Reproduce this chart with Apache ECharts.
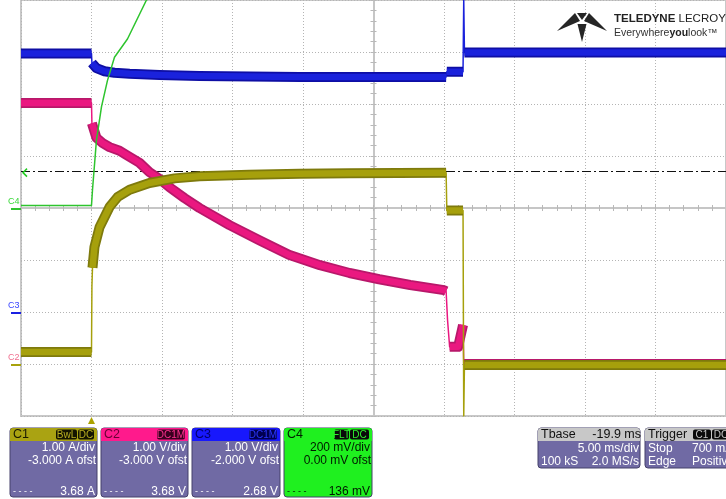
<!DOCTYPE html>
<html><head><meta charset="utf-8">
<script src="https://cdn.jsdelivr.net/npm/echarts@6/dist/echarts.min.js"></script>
<style>html,body{margin:0;padding:0;background:#fff;overflow:hidden}#c{width:726px;height:499px}</style>
</head><body><div id="c"></div>
<script>
// ---- time base: ms, trigger at t = 0 (5 ms/div, 10 divisions) ----
const tMin = -5, tMax = 45, tDiv = 5;

// ---- C1 current (A), 1 A/div, -3 A offset ----
const c1Time = [-5, 0, 0.03, 0.07, 0.21, 0.57, 1.28, 1.85, 2.7, 4.11, 5.89, 7.66, 11.2, 14.75, 18.3, 25.15, 25.2, 26.35, 26.4, 26.45, 45];
const c1Amp  = [0.23, 0.23, 1.5, 1.85, 2.25, 2.63, 3.02, 3.21, 3.35, 3.48, 3.57, 3.61, 3.64, 3.66, 3.67, 3.68, 2.95, 2.95, -1.0, -0.02, -0.02];
const c1Bands = [[0, 1], [3, 15], [16, 17], [19, 20]];   // noisy (thick) stretches, by index

// ---- C2 voltage (V), 1 V/div, -3 V offset ----
const c2Time = [-5, 0, 0.03, 0.35, 0.78, 1.28, 1.99, 2.48, 3.40, 4.11, 4.82, 5.53, 6.60, 7.66, 9.79, 11.9, 14.0, 16.2, 18.3, 20.4, 22.6, 25.0, 25.15, 25.25, 25.4, 26.0, 26.35, 26.4, 45];
const c2Volt = [5.02, 5.02, 4.63, 4.35, 4.25, 4.17, 4.10, 4.02, 3.87, 3.69, 3.56, 3.40, 3.19, 3.00, 2.67, 2.38, 2.10, 1.90, 1.75, 1.63, 1.52, 1.42, 1.40, 0.85, 0.33, 0.33, 0.75, 0.0, 0.0];
const c2Bands = [[0, 1], [2, 22], [24, 26], [27, 28]];

// ---- C3 voltage (V), 1 V/div, -2 V offset ----
const c3Time = [-5, 0, 0.03, 0.35, 0.92, 1.63, 2.70, 4.82, 7.66, 14.75, 25.15, 25.2, 26.35, 26.4, 26.45, 45];
const c3Volt = [4.97, 4.97, 4.79, 4.69, 4.63, 4.60, 4.58, 4.56, 4.54, 4.52, 4.52, 4.62, 4.62, 6.0, 4.99, 4.99];
const c3Bands = [[0, 1], [2, 10], [11, 12], [14, 15]];

// ---- C4 voltage (V), 200 mV/div, 0 offset ----
const c4Time = [-5, 0, 0.07, 0.35, 0.71, 1.13, 1.63, 2.55, 3.90, 4.5];
const c4Volt = [0.01, 0.01, 0.069, 0.26, 0.39, 0.49, 0.58, 0.65, 0.80, 0.85];
const c4Level = 0.136;

// ---- channel vertical ranges (8 divisions) ----
const chRange = { c1: [-1, 7], c2: [-1, 7], c3: [-2, 6], c4: [-0.8, 0.8] };

// ---- panel texts ----
const chPanels = [
  { name: 'C1', tags: ['BwL', 'DC'], vdiv: '1.00 A/div', ofst: '-3.000 A ofst', meas: '3.68 A' },
  { name: 'C2', tags: ['DC1M'], vdiv: '1.00 V/div', ofst: '-3.000 V ofst', meas: '3.68 V' },
  { name: 'C3', tags: ['DC1M'], vdiv: '1.00 V/div', ofst: '-2.000 V ofst', meas: '2.68 V' },
  { name: 'C4', tags: ['FLT', 'DC'], vdiv: '200 mV/div', ofst: '0.00 mV ofst', meas: '136 mV' }
];
const tbase = { title: 'Tbase', delay: '-19.9 ms', tdiv: '5.00 ms/div', samples: '100 kS', rate: '2.0 MS/s' };
const trig = { title: 'Trigger', tags: ['C1', 'DC'], mode: 'Stop', level: '700 mA', type: 'Edge', slope: 'Positive' };

const FONT = '"Liberation Sans", Arial, sans-serif';
const chart = echarts.init(document.getElementById('c'), null, { renderer: 'canvas' });

const gridGray = '#b4b4b4';
const centerGray = '#c6c6c6';
function xAx(inside, split) {
  return {
    type: 'value', position: 'bottom', min: tMin, max: tMax, interval: tDiv,
    axisLabel: { show: false },
    splitLine: { show: split, lineStyle: { color: gridGray, type: [1, 2], width: 1 } },
    axisLine: { show: true, onZero: true, onZeroAxisIndex: 0, lineStyle: { color: centerGray, width: 2 } },
    axisTick: { show: true, inside: inside, length: 3, lineStyle: { color: '#b8b8b8', width: 1 } },
    minorTick: { show: true, splitNumber: 5, length: 3, lineStyle: { color: '#b8b8b8', width: 1 } }
  };
}
function yAx(inside, split) {
  return {
    type: 'value', position: 'left', min: -4, max: 4, interval: 1,
    axisLabel: { show: false },
    splitLine: { show: split, lineStyle: { color: gridGray, type: [1, 2], width: 1 } },
    axisLine: { show: true, onZero: true, onZeroAxisIndex: 2, lineStyle: { color: centerGray, width: 2 } },
    axisTick: { show: true, inside: inside, length: 3, lineStyle: { color: '#b8b8b8', width: 1 } },
    minorTick: { show: true, splitNumber: 5, length: 3, lineStyle: { color: '#b8b8b8', width: 1 } }
  };
}
function chAx(r) { return { type: 'value', position: 'left', min: r[0], max: r[1], show: false }; }

function pts(t, v) { return t.map((x, i) => [x, v[i]]); }
function bandPts(t, v, bands) {
  const out = [];
  bands.forEach((b, k) => {
    if (k > 0) out.push([null, null]);
    for (let i = b[0]; i <= b[1]; i++) out.push([t[i], v[i]]);
  });
  return out;
}
function line(data, yIdx, color, width, z, extra) {
  return Object.assign({
    type: 'line', xAxisIndex: 0, yAxisIndex: yIdx, data: data, connectNulls: false,
    symbol: 'none', showSymbol: false, silent: true, animation: false, z: z,
    lineStyle: { color: color, width: width, join: 'round', cap: 'butt' }, clip: true
  }, extra || {});
}
function channel(t, v, bands, yIdx, dark, mid, z) {
  return [
    line(pts(t, v), yIdx, mid, 1.5, z),
    line(bandPts(t, v, bands), yIdx, dark, 10, z + 0.1),
    line(bandPts(t, v, bands), yIdx, mid, 6.5, z + 0.2)
  ];
}

const option = {
  animation: false,
  backgroundColor: '#ffffff',
  grid: { left: 21, top: 0, right: 0, height: 416, show: true, borderColor: '#c8c8c8', borderWidth: 2, backgroundColor: 'transparent' },
  xAxis: [xAx(true, true), xAx(false, false), { type: 'value', position: 'bottom', min: -5, max: 5, show: false }],
  yAxis: [yAx(true, true), yAx(false, false), chAx(chRange.c1), chAx(chRange.c2), chAx(chRange.c3), chAx(chRange.c4)],
  series: [].concat(
    channel(c3Time, c3Volt, c3Bands, 4, '#0e0ea4', '#1a22dc', 3),
    channel(c2Time, c2Volt, c2Bands, 3, '#b8186a', '#ea1880', 5),
    channel(c1Time, c1Amp, c1Bands, 2, '#7e7a0c', '#a6a00c', 7),
    [line(pts(c4Time, c4Volt), 5, '#2ec42e', 1.5, 9, {
      markLine: {
        silent: true, symbol: ['none', 'none'], label: { show: false }, animation: false,
        lineStyle: { color: '#111', type: [9, 3, 2, 3], width: 1 },
        data: [{ yAxis: c4Level }]
      }
    })]
  )
};
chart.setOption(option);

// ---------- overlay graphics ----------
const G = [];
function rect(x, y, w, h, fill, r, stroke) {
  G.push({ type: 'rect', shape: { x: x, y: y, width: w, height: h, r: r || 0 }, style: { fill: fill, stroke: stroke || null, lineWidth: stroke ? 1 : 0 }, z: 100 });
}
function txt(s, x, y, fill, size, align, weight, va) {
  G.push({ type: 'text', x: x, y: y, style: { text: s, fill: fill, font: (weight || 'normal') + ' ' + size + 'px ' + FONT, textAlign: align || 'left', textVerticalAlign: va || 'middle' }, z: 102 });
}
function tag(s, x, w, bg, fg) {
  rect(x, 429.5, w, 10, bg, 2);
  txt(s, x + w / 2, 435, fg, 10, 'center');
}

// channel panels
const panelX = [10, 101, 192, 284];
const panelW = [87, 87, 88, 88];
const hdr = ['#aaa312', '#ff1a8c', '#1818fc', '#1ff01f'];
const hdrTxt = ['#1a1a00', '#6a0034', '#00006e', '#002000'];
const body = ['#706aa4', '#706aa4', '#706aa4', '#1ff01f'];
const bodyTxt = ['#ffffff', '#ffffff', '#ffffff', '#001800'];
const tagBg = [['#141400', '#141400'], ['#3a0020'], ['#000050'], ['#0a0a0a', '#0a0a0a']];
const tagFg = ['#b8ae20', '#ff3090', '#2a36ff', '#2ef02e'];
const tagW = [[22, 17], [29], [29], [16, 20]];
chPanels.forEach((p, i) => {
  const x = panelX[i], w = panelW[i], r = x + w;
  rect(x, 428, w, 69, body[i], 3, '#45416a');
  rect(x, 428, w, 13, hdr[i], [3, 3, 0, 0]);
  txt(p.name, x + 3, 435, hdrTxt[i], 12.5, 'left');
  let tx = r - 2;
  const widths = tagW[i];
  for (let k = p.tags.length - 1; k >= 0; k--) {
    tx -= widths[k];
    tag(p.tags[k], tx, widths[k] - 1, tagBg[i][k], tagFg[i]);
  }
  txt(p.vdiv, r - 2, 448, bodyTxt[i], 12, 'right');
  txt(p.ofst, r - 1, 461, bodyTxt[i], 12, 'right');
  txt('- - - -', x + 3, 492, bodyTxt[i], 9, 'left');
  txt(p.meas, r - 2, 492, bodyTxt[i], 12, 'right');
});

// timebase panel
rect(538, 428, 102, 40, '#706aa4', 3, '#45416a');
rect(538, 428, 102, 13, '#c8c8c8', [3, 3, 0, 0]);
txt(tbase.title, 541, 435, '#111', 12.5, 'left');
txt(tbase.delay, 641, 435, '#111', 12.5, 'right');
txt(tbase.tdiv, 639, 449, '#fff', 12, 'right');
txt(tbase.samples, 541, 462, '#fff', 12, 'left');
txt(tbase.rate, 639, 462, '#fff', 12, 'right');

// trigger panel
rect(645, 428, 90, 40, '#706aa4', 3, '#45416a');
rect(645, 428, 90, 13, '#c8c8c8', [3, 3, 0, 0]);
txt(trig.title, 648, 435, '#111', 12.5, 'left');
tag(trig.tags[0], 693, 18, '#0a0a0a', '#c8c8c8');
tag(trig.tags[1], 712, 18, '#0a0a0a', '#c8c8c8');
txt(trig.mode, 648, 449, '#fff', 12, 'left');
txt(trig.level, 692, 449, '#fff', 12, 'left');
txt(trig.type, 648, 462, '#fff', 12, 'left');
txt(trig.slope, 692, 462, '#fff', 12, 'left');

// trigger position marker
const trigPx = chart.convertToPixel({ xAxisIndex: 0, yAxisIndex: 0 }, [0, -4]);
G.push({ type: 'polygon', shape: { points: [[trigPx[0] - 3.5, 424], [trigPx[0] + 3.5, 424], [trigPx[0], 417]] }, style: { fill: '#aca200' }, z: 101 });

// channel ground markers
function gnd(label, yIdx, txtColor, lineColor) {
  const p = chart.convertToPixel({ xAxisIndex: 0, yAxisIndex: yIdx }, [tMin, 0]);
  G.push({ type: 'line', shape: { x1: 11, y1: p[1] + 1, x2: 21, y2: p[1] + 1 }, style: { stroke: lineColor, lineWidth: 2 }, z: 101 });
  txt(label, 8, p[1] - 2, txtColor, 9, 'left', 'normal', 'bottom');
}
gnd('C4', 5, '#3ad83a', '#2ec42e');
gnd('C3', 4, '#3a46ff', '#1a20e2');
gnd('C2', 3, '#f07090', '#a8a20c');

// C4 level arrow
const lv = chart.convertToPixel({ xAxisIndex: 0, yAxisIndex: 5 }, [tMin, c4Level]);
G.push({ type: 'polyline', shape: { points: [[lv[0] + 6, lv[1] - 4], [lv[0] + 2, lv[1]], [lv[0] + 6, lv[1] + 4]] }, style: { stroke: '#22cc22', lineWidth: 1.5, fill: null }, z: 101 });

// logo
const ic = '#262626';
G.push({ type: 'polygon', shape: { points: [[557, 31], [575, 13], [580, 21]] }, style: { fill: ic }, z: 101 });
G.push({ type: 'polygon', shape: { points: [[607, 31], [589, 13], [584, 21]] }, style: { fill: ic }, z: 101 });
G.push({ type: 'polygon', shape: { points: [[577, 13], [587, 13], [582, 20]] }, style: { fill: ic }, z: 101 });
G.push({ type: 'polygon', shape: { points: [[577.5, 24], [586.5, 24], [582, 42]] }, style: { fill: ic }, z: 101 });
G.push({ type: 'text', x: 614, y: 19, style: { text: '{b|TELEDYNE} LECROY', fill: '#222', font: '11.5px ' + FONT, textVerticalAlign: 'middle', rich: { b: { fontWeight: 'bold', fontSize: 11.5, fontFamily: FONT, fill: '#222' } } }, z: 102 });
G.push({ type: 'text', x: 614, y: 33, style: { text: 'Everywhere{b|you}look\u2122', fill: '#333', font: '10.5px ' + FONT, textVerticalAlign: 'middle', rich: { b: { fontWeight: 'bold', fontSize: 10.5, fontFamily: FONT, fill: '#222' } } }, z: 102 });

chart.setOption({ graphic: { elements: G } });
</script>
</body></html>
